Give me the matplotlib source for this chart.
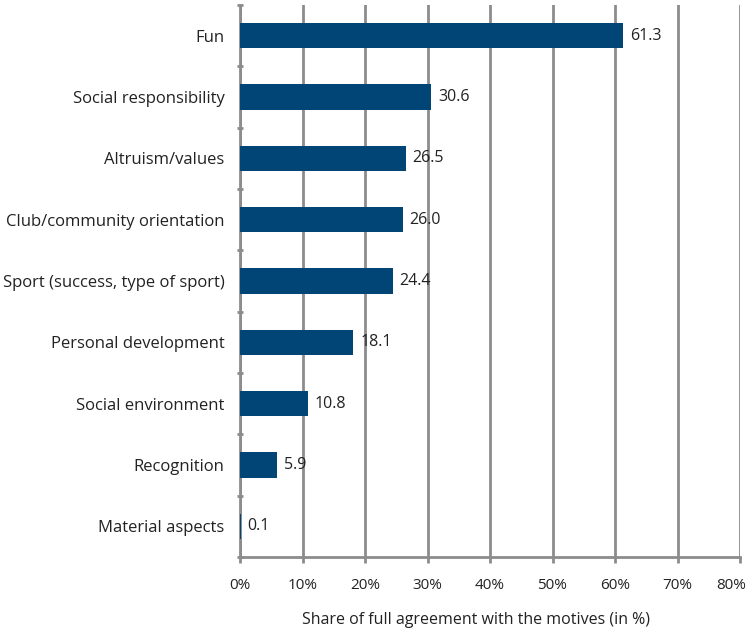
import matplotlib.pyplot as plt
import matplotlib.transforms as mtransforms
from matplotlib.ticker import FixedLocator, NullFormatter

plt.rcParams['font.family'] = ['Open Sans', 'DejaVu Sans']

motives = ['Fun', 'Social responsibility', 'Altruism/values', 'Club/community orientation',
           'Sport (success, type of sport)', 'Personal development', 'Social environment',
           'Recognition', 'Material aspects']
shares = [61.3, 30.6, 26.5, 26.0, 24.4, 18.1, 10.8, 5.9, 0.1]
xticks = [0, 10, 20, 30, 40, 50, 60, 70, 80]

bar_col = '#004576'
grid_col = '#8c8c8c'
txt_col = '#222222'

fig = plt.figure(figsize=(7.53, 6.35), dpi=100)
ax = fig.add_axes([240 / 753, 78 / 635, 500 / 753, 552 / 635])

y = list(range(len(motives)))[::-1]
ax.barh(y, shares, height=0.41, color=bar_col, zorder=3)
for yi, v in zip(y, shares):
    ax.annotate(f'{v:.1f}', (v, yi), xytext=(5, 0), textcoords='offset points',
                va='center', ha='left', fontsize=11.5, color=txt_col, zorder=4)

ax.set_xlim(0, 80)
ax.set_ylim(-0.5, len(motives) - 0.5)
ax.set_xticks(xticks)
ax.set_xticklabels([f'{t}%' for t in xticks], fontsize=11, color=txt_col)
ax.set_yticks(y)
ax.set_yticklabels(motives, fontsize=12, color=txt_col)
ax.tick_params(axis='y', length=0, pad=11)
ax.yaxis.set_minor_locator(FixedLocator([i + 0.5 for i in range(-1, len(motives))]))
ax.yaxis.set_minor_formatter(NullFormatter())
ax.tick_params(axis='y', which='minor', length=4, width=2, color=grid_col, direction='inout')
ax.tick_params(axis='x', length=4, width=2, color=grid_col, pad=11)

# last tick label sits flush at the figure edge, nudge it left so it isn't clipped
last = ax.get_xticklabels()[-1]
last.set_transform(last.get_transform() +
                   mtransforms.ScaledTranslation(-6 / 72, 0, fig.dpi_scale_trans))

ax.xaxis.grid(True, color=grid_col, linewidth=2, zorder=0)
ax.set_axisbelow(True)
for s in ['top', 'right']:
    ax.spines[s].set_visible(False)
for s in ['left', 'bottom']:
    ax.spines[s].set_color(grid_col)
    ax.spines[s].set_linewidth(2)

ax.set_xlabel('Share of full agreement with the motives (in %)', fontsize=11.5,
              color=txt_col)
ax.xaxis.set_label_coords(0.472, -0.1)

fig.savefig('out.png', dpi=100)
